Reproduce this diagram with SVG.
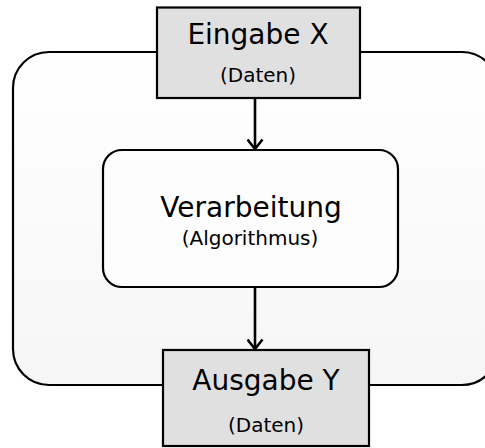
<svg xmlns="http://www.w3.org/2000/svg" width="485" height="448" viewBox="0 0 485 448">
  <style>
    .box { stroke: #000; stroke-width: 2.2; }
    .data { fill: #e0e0e0; }
    .big { font-family: "DejaVu Sans", Verdana, sans-serif; font-size: 28px; fill: #000; text-anchor: middle; }
    .small { font-family: "DejaVu Sans", Verdana, sans-serif; font-size: 20px; fill: #000; text-anchor: middle; }
    .conn { stroke: #000; stroke-width: 2.6; fill: none; }
  </style>
  <defs>
    <linearGradient id="shade" x1="0" y1="0" x2="0" y2="1">
      <stop offset="0" stop-color="#ffffff"/>
      <stop offset="1" stop-color="#f6f6f6"/>
    </linearGradient>
    <!-- open chevron head, drawn pointing along +x so orient="auto" turns it with the line -->
    <marker id="chevron" viewBox="0 0 12 17" markerWidth="12" markerHeight="17" refX="10.5" refY="8.5" orient="auto" markerUnits="userSpaceOnUse">
      <path d="M1,1 L10.5,8.5 L1,16" stroke="#000" stroke-width="2.6" fill="none"/>
    </marker>
  </defs>

  <!-- enclosing system frame -->
  <g id="system">
    <rect x="13" y="52" width="485" height="333" rx="36" ry="36" fill="url(#shade)" stroke="#000" stroke-width="2.2"/>
  </g>

  <g id="connectors">
    <line class="conn" x1="255" y1="98" x2="255" y2="149" marker-end="url(#chevron)"/>
    <line class="conn" x1="255" y1="287" x2="255" y2="349" marker-end="url(#chevron)"/>
  </g>

  <g id="eingabe">
    <rect class="box data" x="157" y="7.5" width="203" height="90.5"/>
    <text class="big" x="258" y="44" font-size="29">Eingabe X</text>
    <text class="small" x="258" y="82">(Daten)</text>
  </g>

  <g id="verarbeitung">
    <rect class="box" x="103" y="150" width="295" height="137" rx="19" ry="19" fill="#fdfdfd"/>
    <text class="big" x="251" y="217">Verarbeitung</text>
    <text class="small" x="250" y="245">(Algorithmus)</text>
  </g>

  <g id="ausgabe">
    <rect class="box data" x="163" y="350" width="206" height="96"/>
    <text class="big" x="266" y="390">Ausgabe Y</text>
    <text class="small" x="266" y="432">(Daten)</text>
  </g>
</svg>
